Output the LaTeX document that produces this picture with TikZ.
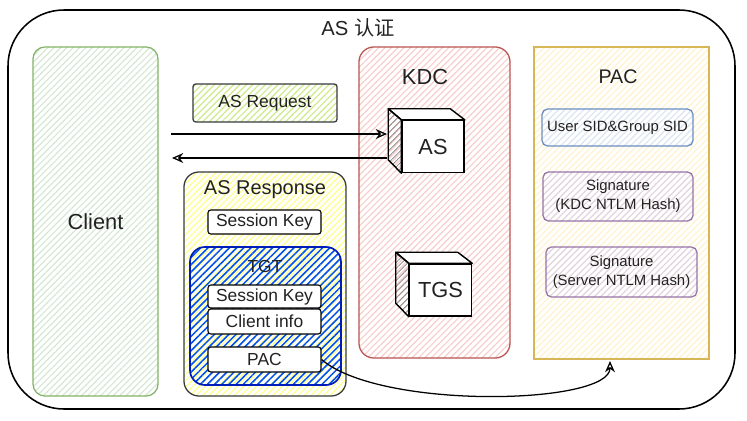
\documentclass[tikz,border=0pt]{standalone}
\usepackage{fontspec}
\setmainfont{Liberation Sans}
\newfontfamily\cjk{Noto Sans CJK SC}
\usetikzlibrary{patterns.meta,arrows.meta}

\definecolor{clientline}{HTML}{82B366}
\definecolor{clientfill}{HTML}{D5E8D4}
\definecolor{reqfill}{HTML}{CDEB8B}
\definecolor{darkline}{HTML}{36393D}
\definecolor{respfill}{HTML}{FFFF88}
\definecolor{tgtline}{HTML}{001DBC}
\definecolor{tgtfill}{HTML}{0050EF}
\definecolor{kdcline}{HTML}{B85450}
\definecolor{kdcfill}{HTML}{F8CECC}
\definecolor{pacline}{HTML}{D6B656}
\definecolor{pacfill}{HTML}{FFF2CC}
\definecolor{sidline}{HTML}{6C8EBF}
\definecolor{sidfill}{HTML}{DAE8FC}
\definecolor{sigline}{HTML}{9673A6}
\definecolor{sigfill}{HTML}{E1D5E7}
\definecolor{labeltext}{HTML}{222222}

\begin{document}
\begin{tikzpicture}[x=0.025cm,y=-0.025cm,
    hatch/.style 2 args={draw=#1, line width=0.9pt,
      pattern={Lines[angle=45,distance=3.2pt,line width=0.85pt]}, pattern color=#2},
    field/.style={draw=black, fill=white, line width=0.8pt, rounded corners=2pt,
      minimum width=2.825cm, minimum height=0.6cm, inner sep=0pt,
      text=labeltext, font=\fontsize{12.4}{14}\selectfont},
    cubefront/.style={draw=black, fill=white, line width=1pt, minimum width=1.55cm,
      minimum height=1.3cm, inner sep=0pt, text=labeltext,
      font=\fontsize{15.5}{18}\selectfont},
    cubeside/.style={draw=black, line width=1pt, line join=round,
      pattern={Lines[angle=45,distance=3pt,line width=0.5pt]}, pattern color=gray},
    pacitem/.style={line width=0.9pt, rounded corners=4pt, inner sep=0pt,
      align=center, text=labeltext, font=\fontsize{10.6}{13.5}\selectfont},
    title/.style={text=labeltext, font=\fontsize{15.5}{18}\selectfont},
    flow/.style={line width=0.9pt, -{Stealth[open,length=8pt,width=7pt]}}]

    \useasboundingbox (0,0) rectangle (747,420);

    % outer frame
    \draw[line width=1.1pt, rounded corners=1.4cm] (8,10) rectangle (735,409);
    \node[text=labeltext, font=\fontsize{14.4}{17}\selectfont] (frametitle) at (358,28) {AS {\cjk 认证}};

    % client
    \node[hatch={clientline}{clientfill}, rounded corners=0.3cm, minimum width=3.125cm,
      minimum height=8.725cm, title] (client) at (95.5,221.5) {Client};

    % request / response
    \node[hatch={darkline}{reqfill}, rounded corners=2pt, minimum width=3.6cm,
      minimum height=0.95cm, text=labeltext, font=\fontsize{12.4}{14}\selectfont] (req) at (265,103) {AS Request};
    \node[hatch={darkline}{respfill}, rounded corners=0.375cm, minimum width=4.05cm,
      minimum height=5.6cm] (resp) at (265,284) {};
    \node[text=labeltext, font=\fontsize{14.2}{16}\selectfont] (resplabel) at (265,190) {AS Response};
    \node[field] (rkey) at (264.5,222) {Session Key};

    \node[draw=tgtline, line width=1.2pt, rounded corners=0.375cm, minimum width=3.775cm,
      minimum height=3.45cm, pattern={Lines[angle=45,distance=3.6pt,line width=1.1pt]},
      pattern color=tgtfill] (tgt) at (265.5,316) {};
    \node[text=labeltext, font=\fontsize{12.4}{14}\selectfont] (tgtlabel) at (265,266) {TGT};
    \node[field, minimum height=0.575cm] (tkey) at (264.5,296.5) {Session Key};
    \node[field, minimum height=0.625cm] (tinfo) at (264.5,321.5) {Client info};
    \node[field, minimum height=0.625cm] (tpac) at (264.5,359.5) {PAC};

    % KDC
    \node[hatch={kdcline}{kdcfill}, rounded corners=0.375cm, minimum width=3.775cm,
      minimum height=7.775cm] (kdc) at (434.5,202.5) {};
    \node[title] (kdclabel) at (425,77) {KDC};

    \node[cubefront] (as) at (433,146.5) {AS};
    \draw[line width=1pt, line join=round, fill=white] (as.north west) -- ++(-13,-11) -- ++(62,0) -- (as.north east) -- cycle;
    \draw[cubeside] (as.north west) -- ++(-13,-11) -- ++(0,51) -- (as.south west) -- cycle;

    \node[cubefront] (tgs) at (440.5,290) {TGS};
    \draw[line width=1pt, line join=round, fill=white] (tgs.north west) -- ++(-13,-11) -- ++(62,0) -- (tgs.north east) -- cycle;
    \draw[cubeside] (tgs.north west) -- ++(-13,-11) -- ++(0,51) -- (tgs.south west) -- cycle;

    % PAC
    \node[hatch={pacline}{pacfill}, minimum width=4.375cm, minimum height=7.8cm] (pacbox) at (621.5,203) {};
    \node[text=labeltext, font=\fontsize{14}{16}\selectfont] (paclabel) at (618,77) {PAC};
    \node[pacitem, hatch={sidline}{sidfill}, minimum width=3.775cm, minimum height=0.925cm] (sid) at (617.5,127.5) {User SID\&Group SID};
    \node[pacitem, hatch={sigline}{sigfill}, minimum width=3.75cm, minimum height=1.225cm] (sigkdc) at (618,196.5) {Signature\\(KDC NTLM Hash)};
    \node[pacitem, hatch={sigline}{sigfill}, minimum width=3.775cm, minimum height=1.25cm] (sigsrv) at (621.5,272) {Signature\\(Server NTLM Hash)};

    % connectors
    \coordinate (reqstart) at (171,134);
    \coordinate (reqend) at (387,134);
    \coordinate (respstart) at (387,158);
    \coordinate (respend) at (172,158);
    \coordinate (pacin) at (610,361);
    \draw[flow] (reqstart) -- (reqend);
    \draw[flow] (respstart) -- (respend);
    \draw[flow] (tpac.east) .. controls (380,410) and (610,405) .. (pacin);
\end{tikzpicture}
\end{document}
